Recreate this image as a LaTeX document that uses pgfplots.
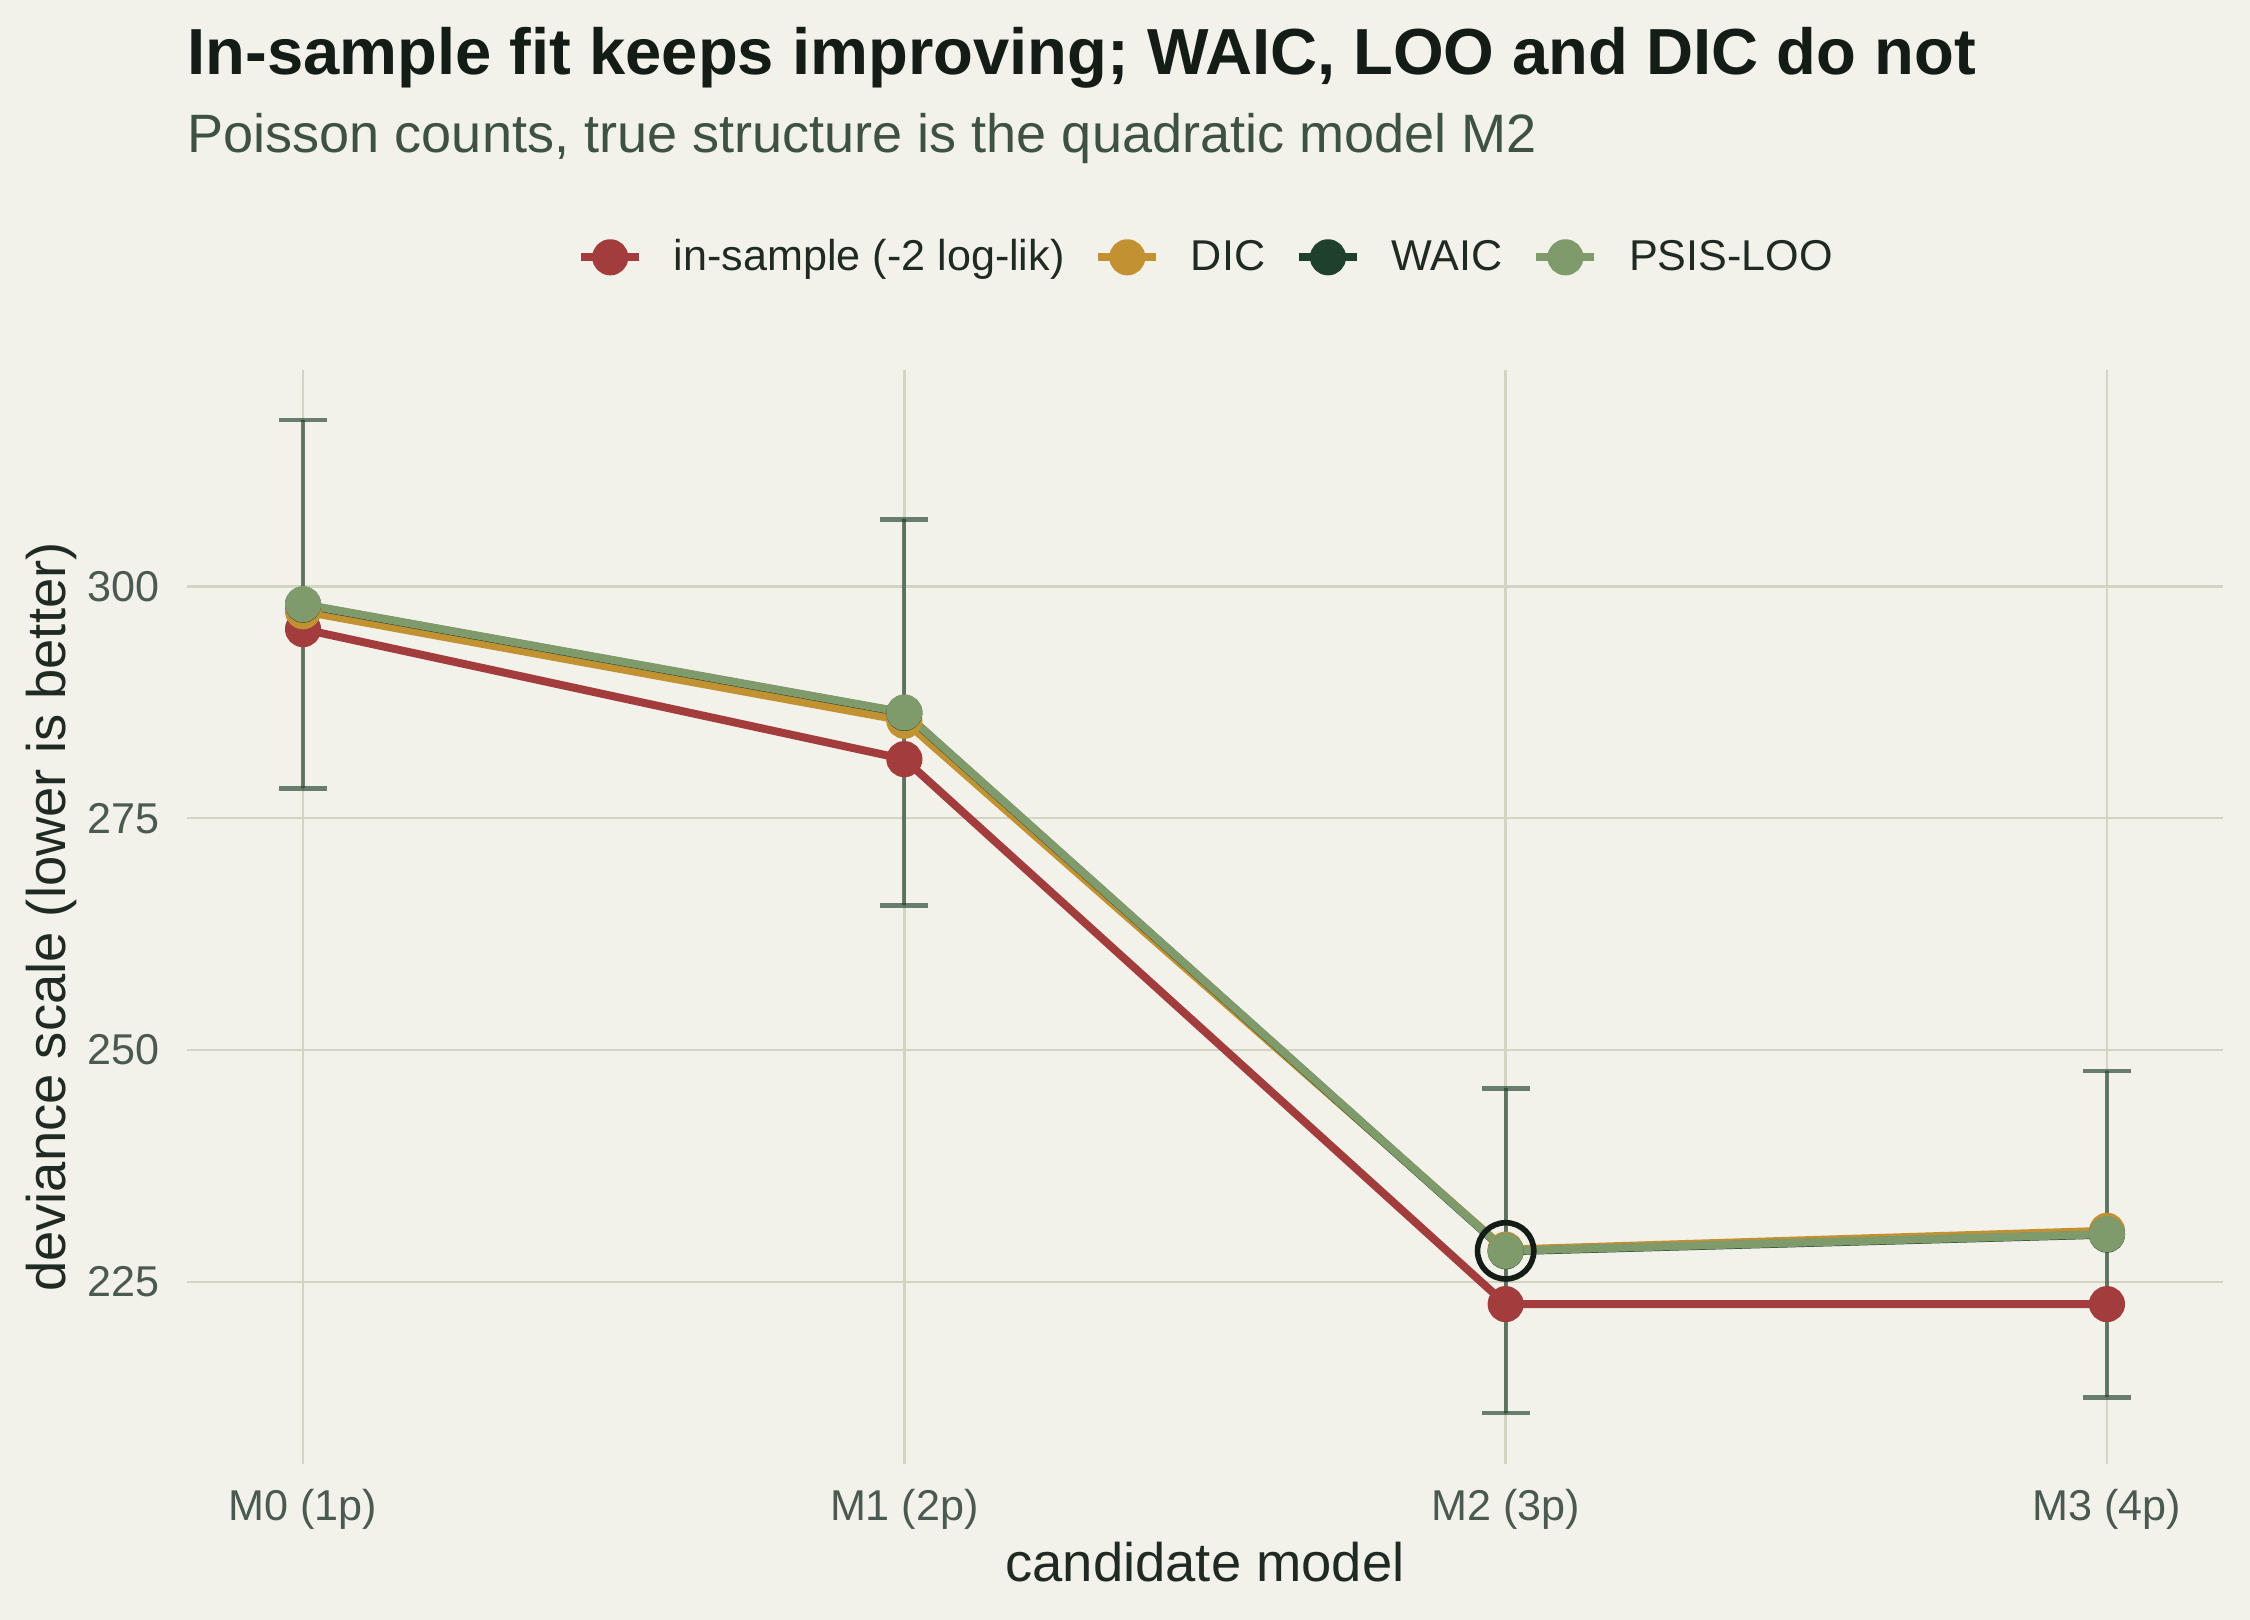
\documentclass[border=0pt]{standalone}
\usepackage{fontspec}
\setmainfont{Liberation Sans}
\usepackage{pgfplots}
\pgfplotsset{compat=1.18}

\definecolor{bgc}{HTML}{F2F1EA}
\definecolor{gridc}{HTML}{D3D4C1}
\definecolor{insc}{HTML}{A33D3D}
\definecolor{dicc}{HTML}{C29132}
\definecolor{waicc}{HTML}{1F402C}
\definecolor{looc}{HTML}{7F9A6B}
\definecolor{tickc}{HTML}{4B5A50}
\definecolor{labc}{HTML}{1F2A22}
\definecolor{titc}{HTML}{141C16}
\definecolor{subc}{HTML}{3D5240}

\begin{document}
\begin{tikzpicture}
\fill[bgc] (0,0) rectangle (720pt,518.4pt);

\node[anchor=base west, inner sep=0pt, font=\fontsize{20.85}{24}\selectfont\bfseries, text=titc]
  at (59.84pt,494.7pt) {In-sample fit keeps improving; WAIC, LOO and DIC do not};
\node[anchor=base west, inner sep=0pt, font=\fontsize{17.3}{20}\selectfont, text=subc]
  at (59.84pt,469.5pt) {Poisson counts, true structure is the quadratic model M2};

\begin{axis}[
  at={(59.84pt,49.92pt)}, anchor=south west,
  scale only axis, width=651.52pt, height=350.08pt,
  xmin=-0.193, xmax=3.193, ymin=205.4, ymax=323.3,
  axis line style={draw=none},
  major tick length=0pt,
  xtick={0,1,2,3},
  xticklabels={M0 (1p), M1 (2p), M2 (3p), M3 (4p)},
  ytick={225,250,275,300},
  grid=major,
  major grid style={draw=gridc, line width=0.85pt},
  tick label style={font=\fontsize{13.8}{16}\selectfont, text=tickc},
  /pgf/number format/assume math mode=true,
  xticklabel style={anchor=base, yshift=-18.1pt},
  yticklabel style={anchor=east, inner sep=0pt, xshift=-8.64pt},
  xlabel={candidate model},
  ylabel={deviance scale (lower is better)},
  label style={font=\fontsize{17.4}{20}\selectfont, text=labc},
  xlabel style={at={(axis description cs:0.5,-0.1076)}, anchor=base},
  ylabel style={at={(axis description cs:-0.0595,0.5)}, anchor=base},
  legend columns=4,
  legend style={at={(0.5,1.103)}, anchor=center, draw=none, fill=none,
    inner sep=0pt, outer sep=0pt,
    font=\fontsize{13.8}{16}\selectfont, text=labc,
    nodes={inner sep=0pt},
    /tikz/every odd column/.append style={column sep=9.8pt},
    /tikz/every even column/.append style={column sep=9.5pt}},
  legend image code/.code={%
    \draw[mark repeat=2, mark phase=2, #1] plot coordinates {(0pt,0pt) (9.3pt,0pt) (18.6pt,0pt)};
  },
  line join=round,
]

% standard-error bars of PSIS-LOO
\addplot[forget plot, draw=none, mark=none,
  error bars/.cd, y dir=both, y explicit,
  error bar style={draw=waicc, draw opacity=0.65, line width=1.3pt},
  error mark options={rotate=90, mark size=7.7pt, draw=waicc, draw opacity=0.65, line width=1.4pt}]
  coordinates {
    (0,298.06) +- (0,19.85)
    (1,286.39) +- (0,20.80)
    (2,228.37) +- (0,17.50)
    (3,230.17) +- (0,17.60)
  };

\addplot[insc, line width=2.56pt, mark=*, mark size=4.5pt, mark options={draw=none, fill=insc}]
  coordinates {(0,295.37) (1,281.36) (2,222.63) (3,222.63)};
\addlegendentry{in-sample (-2 log-lik)}

\addplot[dicc, line width=2.56pt, mark=*, mark size=4.5pt, mark options={draw=none, fill=dicc}]
  coordinates {(0,297.30) (1,285.50) (2,228.50) (3,230.53)};
\addlegendentry{DIC}

\addplot[waicc, line width=2.56pt, mark=*, mark size=4.5pt, mark options={draw=none, fill=waicc}]
  coordinates {(0,298.01) (1,286.34) (2,228.32) (3,230.12)};
\addlegendentry{WAIC}

\addplot[looc, line width=2.56pt, mark=*, mark size=4.5pt, mark options={draw=none, fill=looc}]
  coordinates {(0,298.06) (1,286.39) (2,228.37) (3,230.17)};
\addlegendentry{PSIS-LOO}

% ring around the model with the best PSIS-LOO
\addplot[forget plot, only marks, mark=o, mark size=9pt,
  mark options={draw=titc, line width=1.8pt, fill=none}]
  coordinates {(2,228.37)};

\end{axis}

\pgfresetboundingbox
\useasboundingbox (0,0) rectangle (720pt,518.4pt);
\end{tikzpicture}
\end{document}
